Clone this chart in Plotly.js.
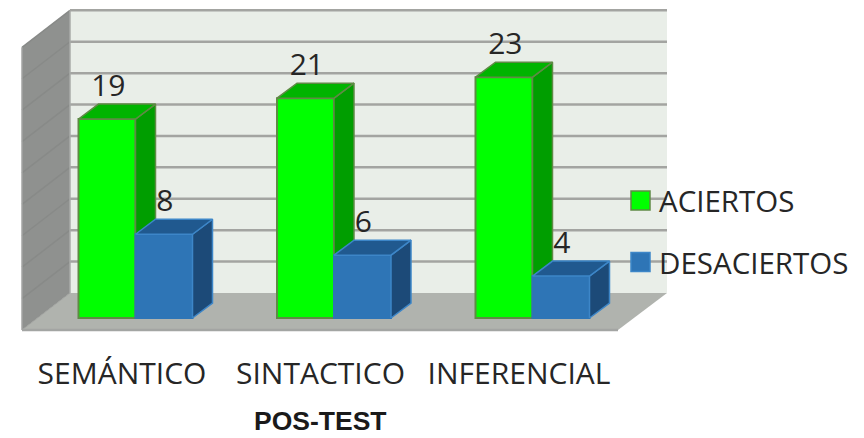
<!DOCTYPE html>
<html><head><meta charset="utf-8">
<script src="https://cdn.plot.ly/plotly-3.0.1.min.js"></script>
<style>html,body{margin:0;padding:0;background:#fff}</style></head>
<body><div id="chart" style="width:864px;height:438px"></div>
<script>
const categories = ["SEMÁNTICO", "SINTACTICO", "INFERENCIAL"];
const aciertos = [19, 21, 23];
const desaciertos = [8, 6, 4];
const seriesNames = ["ACIERTOS", "DESACIERTOS"];
const wallTicks = [0, 3, 6, 9, 12, 15, 18, 21, 24, 27];
const xAxisTitle = "POS-TEST";

const W = 864, H = 438, mL = 22, mR = 246, mT = 10, mB = 108;
const pw = W - mL - mR, ph = H - mT - mB;
const pxPerUnitX = 198.5, pxPerUnitY = 10.47;
const xRange = [-113.5 / pxPerUnitX, 482.5 / pxPerUnitX];
const yRange = [-12 / pxPerUnitY, 308 / pxPerUnitY];
const barW = 57 / pxPerUnitX, depthX = 20 / pxPerUnitX, depthY = 15 / pxPerUnitY;
const wallDx = 48 / pw, wallDy = 37 / ph, wallRight = 1 + 49 / pw;
const unitPaper = pxPerUnitY / ph;
const font = "Open Sans, sans-serif";
const ink = "#262626";
const xs = categories.map((_, i) => i);

function polys(vals, left, fn) {
  const x = [], y = [];
  vals.forEach((v, i) => {
    fn(i + left, v).forEach(p => { x.push(p[0]); y.push(p[1]); });
    x.push(null); y.push(null);
  });
  return { x, y };
}
const topFace = w => (l, v) => [[l, v], [l + w, v], [l + w + depthX, v + depthY], [l + depthX, v + depthY], [l, v]];
const sideFace = w => (l, v) => [[l + w, 0], [l + w + depthX, depthY], [l + w + depthX, v + depthY], [l + w, v], [l + w, 0]];

function face(vals, left, fn, fill, edge, ax) {
  const p = polys(vals, left, fn);
  return { type: "scatter", mode: "lines", x: p.x, y: p.y, fill: "toself", fillcolor: fill,
    line: { color: edge, width: 1.5 }, hoverinfo: "skip", showlegend: false, xaxis: ax[0], yaxis: ax[1] };
}
function bar(name, vals, offset, fill, edge, ax) {
  return { type: "bar", name, x: xs, y: vals, width: barW, offset, marker: { color: fill, line: { color: edge, width: 2 } },
    showlegend: false, xaxis: ax[0], yaxis: ax[1] };
}
const A1 = ["x", "y"], A2 = ["x2", "y2"];
const green = { front: "#00ff00", top: "#00b400", side: "#009e00", edge: "#5f8a45" };
const blue = { front: "#2e75b6", top: "#20598f", side: "#1c4a78", edge: "#3d86c8" };

const labelY = 31 / pxPerUnitY;
const traces = [
  bar(seriesNames[0], aciertos, -barW, green.front, green.edge, A1),
  face(aciertos, -barW, sideFace(barW), green.side, green.edge, A1),
  face(aciertos, -barW, topFace(barW), green.top, green.edge, A1),
  bar(seriesNames[1], desaciertos, 0, blue.front, blue.front, A2),
  face(desaciertos, 0, sideFace(barW), blue.side, blue.edge, A2),
  face(desaciertos, 0, topFace(barW), blue.top, blue.edge, A2),
  { type: "scatter", mode: "text", cliponaxis: false, hoverinfo: "skip", showlegend: false, xaxis: "x2", yaxis: "y2",
    x: xs.map(i => i - 0.137).concat(xs.map(i => i + 0.148)),
    y: aciertos.concat(desaciertos).map(v => v + labelY),
    text: aciertos.concat(desaciertos).map(String),
    textposition: "middle center", textfont: { family: font, size: 30, color: ink } }
];

const wallLine = "#a3a4a1";
function poly(points, fill, line, lw) {
  const path = points.map((p, i) => (i ? "L" : "M") + p[0] + "," + p[1]).join("") + "Z";
  return { type: "path", xref: "paper", yref: "paper", layer: "below", path, fillcolor: fill,
    line: { color: line, width: lw === undefined ? 0 : lw } };
}
function lineThrough(points, color, lw) {
  const path = points.map((p, i) => (i ? "L" : "M") + p[0] + "," + p[1]).join("");
  return { type: "path", xref: "paper", yref: "paper", layer: "below", path, line: { color, width: lw } };
}
const topFront = 27 * unitPaper, topBack = wallDy + 27 * unitPaper;
const shapes = [
  poly([[wallDx, wallDy], [wallRight, wallDy], [wallRight, topBack], [wallDx, topBack]], "#e9eee8"),
  poly([[0, 0], [wallDx, wallDy], [wallDx, topBack], [0, topFront]], "#8f918f"),
  poly([[0, 0], [1, 0], [wallRight, wallDy], [wallDx, wallDy]], "#b0b3ae"),
];
wallTicks.forEach((t, i) => {
  const f = t * unitPaper, b = wallDy + f;
  if (i > 0) shapes.push(lineThrough([[wallDx, b], [wallRight, b]], wallLine, 2.5));
  shapes.push(lineThrough([[0, f], [wallDx, b]], i ? "#888a88" : "#a0a29f", i ? 1.5 : 1));
});
shapes.push(lineThrough([[0, 0], [1, 0]], "#a3a5a3", 2.5));
shapes.push(lineThrough([[0, 0], [0, topFront]], "#a3a5a3", 1.5));
shapes.push(lineThrough([[wallDx, wallDy], [wallDx, topBack]], "#a9aba8", 1.5));

// legend keys and labels
const keyX0 = (631 - mL) / pw, keyX1 = (650 - mL) / pw;
const keyY = [(H - mB - 200.5) / ph, (H - mB - 262) / ph], keyH = 9.5 / ph;
const keyStyle = [green, blue];
const annotations = seriesNames.map((s, i) => ({
  xref: "paper", yref: "paper", x: (657 - mL) / pw, y: keyY[i], xanchor: "left", yanchor: "middle",
  text: s, showarrow: false, align: "left", font: { family: font, size: 29.5, color: ink }
}));
seriesNames.forEach((s, i) => shapes.push({
  type: "rect", xref: "paper", yref: "paper", layer: "above", x0: keyX0, x1: keyX1, y0: keyY[i] - keyH, y1: keyY[i] + keyH,
  fillcolor: keyStyle[i].front, line: { color: i ? blue.edge : green.edge, width: 1.5 }
}));

// axis title, placed under the tick labels
annotations.push({
  xref: "paper", yref: "paper", x: 0.5, y: (H - mB - 421) / ph, xanchor: "center", yanchor: "middle",
  text: "<b>" + xAxisTitle + "</b>", showarrow: false, font: { family: "Liberation Sans, sans-serif", size: 26.5, color: "#1a1a1a" }
});

const layout = {
  width: W, height: H, showlegend: false, paper_bgcolor: "#fff", plot_bgcolor: "rgba(0,0,0,0)",
  margin: { l: mL, r: mR, t: mT, b: mB, pad: 0 },
  barmode: "overlay",
  xaxis: { range: xRange, tickmode: "array", tickvals: xs.map(i => i - 13.5 / pxPerUnitX), ticktext: categories,
    ticks: "outside", ticklen: 17, tickcolor: "rgba(0,0,0,0)", showgrid: false, zeroline: false, showline: false,
    tickfont: { family: font, size: 30, color: ink } },
  yaxis: { range: yRange, visible: false, showgrid: false, zeroline: false },
  xaxis2: { range: xRange, overlaying: "x", visible: false, matches: "x" },
  yaxis2: { range: yRange, overlaying: "y", visible: false, matches: "y" },
  shapes, annotations
};
Plotly.newPlot("chart", traces, layout, { displayModeBar: false, staticPlot: true });
</script></body></html>
